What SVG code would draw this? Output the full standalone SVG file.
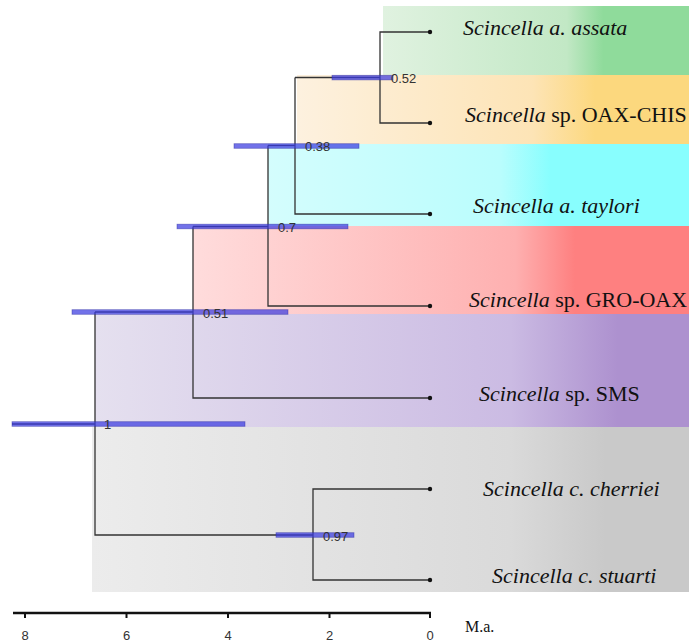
<svg xmlns="http://www.w3.org/2000/svg" width="689" height="644" viewBox="0 0 689 644">
  <defs>
    <linearGradient id="gGreen" x1="0" y1="0" x2="1" y2="0">
      <stop offset="0" stop-color="#e0f2e0"/>
      <stop offset="0.6" stop-color="#c2e8c5"/>
      <stop offset="0.72" stop-color="#8fdb9b"/>
      <stop offset="1" stop-color="#8fdb9b"/>
    </linearGradient>
    <linearGradient id="gOrange" x1="0" y1="0" x2="1" y2="0">
      <stop offset="0" stop-color="#fdf1df"/>
      <stop offset="0.6" stop-color="#fde4b6"/>
      <stop offset="0.76" stop-color="#fcd87e"/>
      <stop offset="1" stop-color="#fcd87e"/>
    </linearGradient>
    <linearGradient id="gCyan" x1="0" y1="0" x2="1" y2="0">
      <stop offset="0" stop-color="#d4fdfd"/>
      <stop offset="0.55" stop-color="#bafdfd"/>
      <stop offset="0.67" stop-color="#88fefe"/>
      <stop offset="1" stop-color="#88fefe"/>
    </linearGradient>
    <linearGradient id="gRed" x1="0" y1="0" x2="1" y2="0">
      <stop offset="0" stop-color="#ffdcdc"/>
      <stop offset="0.65" stop-color="#feb0b0"/>
      <stop offset="0.77" stop-color="#fe8080"/>
      <stop offset="1" stop-color="#fe8080"/>
    </linearGradient>
    <linearGradient id="gPurple" x1="0" y1="0" x2="1" y2="0">
      <stop offset="0" stop-color="#e5e0ef"/>
      <stop offset="0.7" stop-color="#cbbbe3"/>
      <stop offset="0.88" stop-color="#ad91cf"/>
      <stop offset="1" stop-color="#ad91cf"/>
    </linearGradient>
    <linearGradient id="gGray" x1="0" y1="0" x2="1" y2="0">
      <stop offset="0" stop-color="#ececec"/>
      <stop offset="0.7" stop-color="#dadada"/>
      <stop offset="0.86" stop-color="#c9c9c9"/>
      <stop offset="1" stop-color="#c9c9c9"/>
    </linearGradient>
    <style>
      .branch { fill: none; stroke: #333333; stroke-width: 1.3; }
      .tip { fill: #111111; }
      .hpd { fill: #3c3ce0; fill-opacity: 0.72; stroke: #2a2aa0; stroke-opacity: 0.5; stroke-width: 0.8; }
      .support { font-family: "Liberation Sans", Arial, sans-serif; font-size: 13px; fill: #333333; }
      .taxon { font-family: "Liberation Serif", "Times New Roman", serif; font-size: 22px; fill: #111111; }
      .gen { font-style: italic; }
      .axis { stroke: #111111; stroke-width: 2.5; fill: none; }
      .tick { stroke: #111111; stroke-width: 2; }
      .ticklbl { font-family: "Liberation Sans", Arial, sans-serif; font-size: 13px; fill: #333333; text-anchor: middle; }
      .unit { font-family: "Liberation Serif", "Times New Roman", serif; font-size: 16px; fill: #111111; }
    </style>
  </defs>

  <rect width="689" height="644" fill="#ffffff"/>

  <g id="bands">
    <rect x="383" y="6" width="306" height="69" fill="url(#gGreen)"/>
    <rect x="297" y="75" width="392" height="69" fill="url(#gOrange)"/>
    <rect x="268" y="144" width="421" height="82" fill="url(#gCyan)"/>
    <rect x="193" y="226" width="496" height="88" fill="url(#gRed)"/>
    <rect x="95" y="314" width="594" height="113" fill="url(#gPurple)"/>
    <rect x="92" y="427" width="597" height="165" fill="url(#gGray)"/>
  </g>

  <g id="connectors">
    <path class="branch" d="M430,32 H380 V123 H430"/>
    <path class="branch" d="M380,77.5 H295"/>
    <path class="branch" d="M295,77.5 V214 H430"/>
    <path class="branch" d="M295,145.5 H268"/>
    <path class="branch" d="M268,145.5 V306 H430"/>
    <path class="branch" d="M268,226.5 H193"/>
    <path class="branch" d="M193,226.5 V398 H430"/>
    <path class="branch" d="M193,312 H95"/>
    <path class="branch" d="M95,312 V535 H313"/>
    <path class="branch" d="M95,424 H12"/>
    <path class="branch" d="M430,489 H313 V580 H430"/>
  </g>

  <g id="tips">
    <circle class="tip" cx="430" cy="32" r="2.2"/>
    <circle class="tip" cx="430" cy="123" r="2.2"/>
    <circle class="tip" cx="430" cy="214" r="2.2"/>
    <circle class="tip" cx="430" cy="306" r="2.2"/>
    <circle class="tip" cx="430" cy="398" r="2.2"/>
    <circle class="tip" cx="430" cy="489" r="2.2"/>
    <circle class="tip" cx="430" cy="580" r="2.2"/>
  </g>

  <g id="node-A">
    <rect class="hpd" x="332" y="75.3" width="61" height="4.6"/>
    <text class="support" x="391" y="82.5">0.52</text>
  </g>
  <g id="node-B">
    <rect class="hpd" x="234" y="143.7" width="125" height="4.6"/>
    <text class="support" x="305" y="151">0.38</text>
  </g>
  <g id="node-C">
    <rect class="hpd" x="177" y="224.2" width="171" height="4.6"/>
    <text class="support" x="278" y="231.5">0.7</text>
  </g>
  <g id="node-D">
    <rect class="hpd" x="72" y="309.7" width="216" height="4.6"/>
    <text class="support" x="203" y="317.5">0.51</text>
  </g>
  <g id="node-root">
    <rect class="hpd" x="12" y="421.7" width="233" height="4.6"/>
    <text class="support" x="104" y="429">1</text>
  </g>
  <g id="node-E">
    <rect class="hpd" x="276" y="532.7" width="78" height="4.6"/>
    <text class="support" x="323" y="540.5">0.97</text>
  </g>

  <g id="taxon-assata"><text class="taxon" x="463" y="35"><tspan class="gen">Scincella a. assata</tspan></text></g>
  <g id="taxon-oaxchis"><text class="taxon" x="465" y="122"><tspan class="gen">Scincella</tspan> sp. OAX-CHIS</text></g>
  <g id="taxon-taylori"><text class="taxon" x="473" y="213"><tspan class="gen">Scincella a. taylori</tspan></text></g>
  <g id="taxon-grooax"><text class="taxon" x="469" y="307"><tspan class="gen">Scincella</tspan> sp. GRO-OAX</text></g>
  <g id="taxon-sms"><text class="taxon" x="479" y="401"><tspan class="gen">Scincella</tspan> sp. SMS</text></g>
  <g id="taxon-cherriei"><text class="taxon" x="483" y="496"><tspan class="gen">Scincella c. cherriei</tspan></text></g>
  <g id="taxon-stuarti"><text class="taxon" x="492" y="583"><tspan class="gen">Scincella c. stuarti</tspan></text></g>

  <g id="axis">
    <line class="axis" x1="13" y1="613" x2="431" y2="613"/>
    <line class="tick" x1="25" y1="613" x2="25" y2="618"/>
    <line class="tick" x1="126.5" y1="613" x2="126.5" y2="618"/>
    <line class="tick" x1="228" y1="613" x2="228" y2="618"/>
    <line class="tick" x1="329.5" y1="613" x2="329.5" y2="618"/>
    <line class="tick" x1="430" y1="613" x2="430" y2="618"/>
    <text class="ticklbl" x="25" y="640">8</text>
    <text class="ticklbl" x="126.5" y="640">6</text>
    <text class="ticklbl" x="228" y="640">4</text>
    <text class="ticklbl" x="329.5" y="640">2</text>
    <text class="ticklbl" x="430" y="640">0</text>
    <text class="unit" x="465" y="632">M.a.</text>
  </g>
</svg>
